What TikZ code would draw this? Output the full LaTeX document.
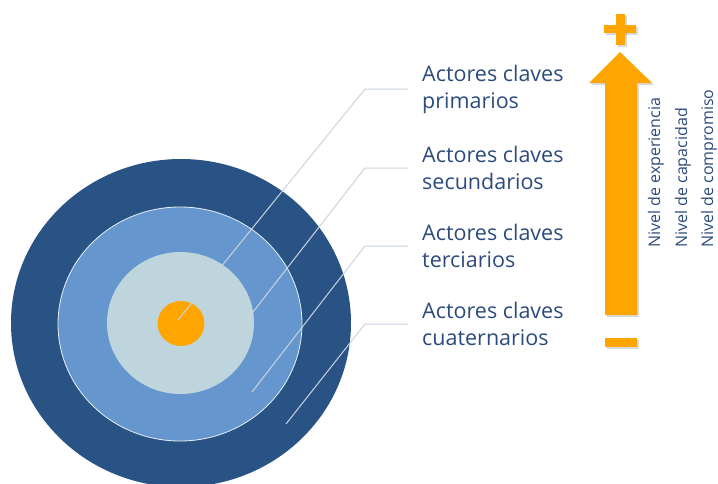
\documentclass[tikz,border=0pt]{standalone}
\usepackage{fontspec}
\setmainfont{Open Sans}
\definecolor{txtblue}{RGB}{44,74,124}
\definecolor{ringdark}{RGB}{41,83,132}
\definecolor{ringmid}{RGB}{101,150,205}
\definecolor{ringlight}{RGB}{190,213,222}
\definecolor{core}{RGB}{255,165,0}
\definecolor{leader}{RGB}{200,212,224}
\begin{document}
\begin{tikzpicture}[x=1pt,y=-1pt,
  lbl/.style={anchor=west,align=left,text=txtblue,font=\fontsize{21.5}{27}\selectfont,inner sep=0pt,xshift=14pt},
  vlbl/.style={anchor=base west,rotate=90,text=txtblue,font=\fontsize{16}{20}\selectfont,inner sep=0pt},
  leaderline/.style={draw=leader,line width=1pt},
  bar/.style={fill=core}]
\useasboundingbox (0,0) rectangle (718,483);
\begin{scope}
\clip (0,0) rectangle (718,483);
\fill[ringdark] (181,323) ellipse [x radius=170pt, y radius=164pt];
\end{scope}
\fill[ringmid,draw=white!85!ringmid,line width=0.8pt] (180,324) ellipse [x radius=122pt, y radius=117pt];
\fill[ringlight] (180.5,323) ellipse [x radius=73.5pt, y radius=71pt];
\fill[core] (181,323.5) ellipse [x radius=23.5pt, y radius=22.5pt];
% leader coordinates
\coordinate (s1) at (178,320); \coordinate (b1) at (365,89);  \coordinate (e1) at (408,89);
\coordinate (s2) at (218,357); \coordinate (b2) at (365,168); \coordinate (e2) at (408,168);
\coordinate (s3) at (252,392); \coordinate (b3) at (365,246); \coordinate (e3) at (408,246);
\coordinate (s4) at (286,424); \coordinate (b4) at (365,324); \coordinate (e4) at (408,324);
\draw[leaderline] (s1) -- (b1) -- (e1);
\draw[leaderline] (s2) -- (b2) -- (e2);
\draw[leaderline] (s3) -- (b3) -- (e3);
\draw[leaderline] (s4) -- (b4) -- (e4);
\node[lbl] (t1) at (e1) {Actores claves\\primarios};
\node[lbl] (t2) at (e2) {Actores claves\\secundarios};
\node[lbl] (t3) at (e3) {Actores claves\\terciarios};
\node[lbl] (t4) at (e4) {Actores claves\\cuaternarios};
% arrow with soft shadow
\fill[black,opacity=0.15] (622,54) -- (654,85) -- (639,85) -- (639,317) -- (607,317) -- (607,85) -- (591,85) -- cycle;
\fill[core] (620,52) -- (652,83) -- (637,83) -- (637,315) -- (605,315) -- (605,83) -- (589,83) -- cycle;
% plus and minus
\fill[black,opacity=0.15] (618,16) rectangle (627,47);
\fill[black,opacity=0.15] (606,27) rectangle (638,35);
\fill[bar] (616,14) rectangle (625,45);
\fill[bar] (604,25) rectangle (636,33);
\fill[black,opacity=0.15] (607,340) rectangle (639,349);
\fill[bar] (605,338) rectangle (637,347);
\node[vlbl] (v1) at (660,248) {Nivel de experiencia};
\node[vlbl] (v2) at (687,248) {Nivel de capacidad};
\node[vlbl] (v3) at (713,248) {Nivel de compromiso};
\end{tikzpicture}
\end{document}
